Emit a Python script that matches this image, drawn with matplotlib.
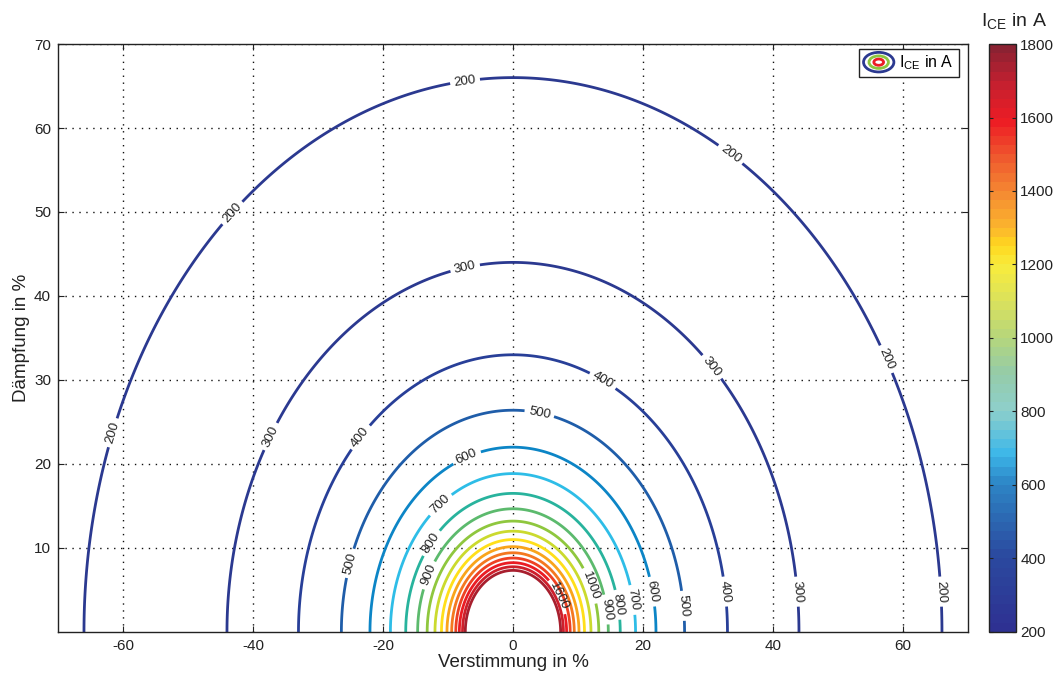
import numpy as np
import matplotlib
matplotlib.use("Agg")
import matplotlib.pyplot as plt
from matplotlib.colors import LinearSegmentedColormap, Normalize
from matplotlib.cm import ScalarMappable
from matplotlib.patches import Ellipse
from matplotlib.legend_handler import HandlerBase

plt.rcParams["font.family"] = ["Liberation Sans", "DejaVu Sans"]
plt.rcParams["mathtext.default"] = "regular"
plt.rcParams["axes.unicode_minus"] = False

# ---- data -------------------------------------------------------------
# collector current falls off with the distance from the resonance point:
# I_CE * sqrt(Verstimmung^2 + Daempfung^2) = const
ice_scale = 13200.0                       # A * %
levels = list(range(200, 1801, 100))      # contour levels in A
cbar_ticks = list(range(200, 1801, 200))
x_ticks = [-60, -40, -20, 0, 20, 40, 60]
y_ticks = [10, 20, 30, 40, 50, 60, 70]

# inline label anchors (data coords) for each labelled level
label_spots = {
    200: [(-7.4, 65.7), (33.4, 56.8), (-43.2, 49.9), (57.2, 32.4), (-61.5, 23.7), (65.7, 4.8)],
    300: [(-7.4, 43.5), (30.5, 31.5), (-37.1, 23.2), (43.7, 4.8)],
    400: [(-23.5, 23.2), (13.8, 29.9), (32.5, 4.8)],
    500: [(4.0, 25.8), (-25.2, 8.2), (26.0, 3.1)],
    600: [(-7.1, 20.8), (21.4, 4.8)],
    700: [(-11.1, 15.1), (18.3, 3.8)],
    800: [(-12.6, 10.6), (15.8, 3.2)],
    900: [(-13.1, 6.8), (13.7, 2.6)],
    1000: [(12.2, 5.6)],
    1600: [(7.5, 4.4)],
}

# ---- colour maps ------------------------------------------------------
line_cmap = LinearSegmentedColormap.from_list("lines", [
    (0.0, "#2B3990"), (0.0625, "#2B3990"), (0.125, "#283F98"), (0.1875, "#1F5DA9"),
    (0.25, "#0B84C5"), (0.3125, "#2EBDE8"), (0.375, "#27B39E"), (0.4375, "#5BBA6E"),
    (0.5, "#8DC63F"), (0.5625, "#C9DA2F"), (0.625, "#FFE11A"), (0.6875, "#F9A61B"),
    (0.75, "#F47B20"), (0.8125, "#EE4323"), (0.875, "#EC1C24"), (0.9375, "#D01F2B"),
    (1.0, "#A81F2E")])

bar_cmap = LinearSegmentedColormap.from_list("bar", [
    (0.0, "#2E3192"), (0.125, "#2B4A9F"), (0.25, "#2D86C6"), (0.30, "#3DB7E9"),
    (0.375, "#8ECFCB"), (0.44, "#95CBA8"), (0.5, "#B5D67C"), (0.56, "#D9E15E"),
    (0.625, "#F8EC3D"), (0.66, "#FFD81F"), (0.69, "#FBB62D"), (0.75, "#F58A32"),
    (0.81, "#EF5A2E"), (0.875, "#ED1C24"), (0.94, "#C42030"), (1.0, "#8B2232")]).resampled(64)

# ---- figure -----------------------------------------------------------
fig = plt.figure(figsize=(10.58, 6.77), dpi=100)
ax = fig.add_axes([0.0548, 0.0665, 0.8601, 0.8685])

xs = np.linspace(-70, 70, 1400)
ys = np.linspace(0, 70, 701)
X, Y = np.meshgrid(xs, ys)
R = np.maximum(np.hypot(X, Y), 1e-3)
I_ce = ice_scale / R

norm = Normalize(vmin=levels[0], vmax=levels[-1])
ax.set_xlim(-70, 70)
ax.set_ylim(0, 70)

# one contour set per level so every label lands on its own curve
for lev in levels:
    cs = ax.contour(X, Y, I_ce, levels=[lev], colors=[line_cmap(norm(lev))],
                    linewidths=2.0)
    if lev in label_spots:
        ax.clabel(cs, manual=label_spots[lev], inline=True, inline_spacing=4,
                  fmt="%d", fontsize=9.5, colors="#222222")

ax.set_xlim(-70, 70)
ax.set_ylim(0, 70)
ax.set_xticks(x_ticks)
ax.set_yticks(y_ticks)
ax.tick_params(direction="in", top=True, right=True, length=4, width=0.8,
               labelsize=11, colors="#222222", pad=5)
for sp in ax.spines.values():
    sp.set_linewidth(1.0)
    sp.set_color("#222222")
ax.grid(True, color="#111111", linestyle=(0, (1, 4)), linewidth=1.0)
ax.set_axisbelow(True)
ax.set_xlabel("Verstimmung in %", fontsize=13.5, color="#222222", labelpad=1)
ax.set_ylabel("Dämpfung in %", fontsize=13.5, color="#222222", labelpad=3)


# legend with a concentric-rings symbol
class RingsHandler(HandlerBase):
    def create_artists(self, legend, orig_handle, xdescent, ydescent,
                       width, height, fontsize, trans):
        cx = width / 2 - xdescent
        cy = height / 2 - ydescent
        arts = []
        for frac, col in zip([1.0, 0.64, 0.32], ["#2B3990", "#8DC63F", "#EC1C24"]):
            e = Ellipse((cx, cy), width * frac, 1.75 * height * frac, fill=False,
                        edgecolor=col, linewidth=2.0, transform=trans)
            arts.append(e)
        return arts


ring_handle = object()
leg = ax.legend([ring_handle], ["$I_{CE}$ in A"], handler_map={ring_handle: RingsHandler()},
                loc="upper right", bbox_to_anchor=(0.9935, 0.997), fontsize=11.5,
                handlelength=1.9, handletextpad=0.35, borderpad=0.3, fancybox=False,
                framealpha=1.0, edgecolor="#222222", borderaxespad=0.2)
leg.get_frame().set_linewidth(1.0)

# colour bar
cax = fig.add_axes([0.9348, 0.0665, 0.0255, 0.8685])
sm = ScalarMappable(norm=norm, cmap=bar_cmap)
cb = fig.colorbar(sm, cax=cax, ticks=cbar_ticks)
cb.outline.set_linewidth(1.0)
cb.outline.set_edgecolor("#222222")
cax.tick_params(direction="in", length=3, width=0.8, left=True, right=True,
                labelsize=11, colors="#222222", pad=3)
cax.yaxis.set_tick_params(labelleft=False, labelright=True)
fig.text(1014 / 1058, 1 - 21 / 677, "$I_{CE}$ in A", ha="center", va="center",
         fontsize=14, color="#222222")

fig.savefig("out.png", dpi=100)
